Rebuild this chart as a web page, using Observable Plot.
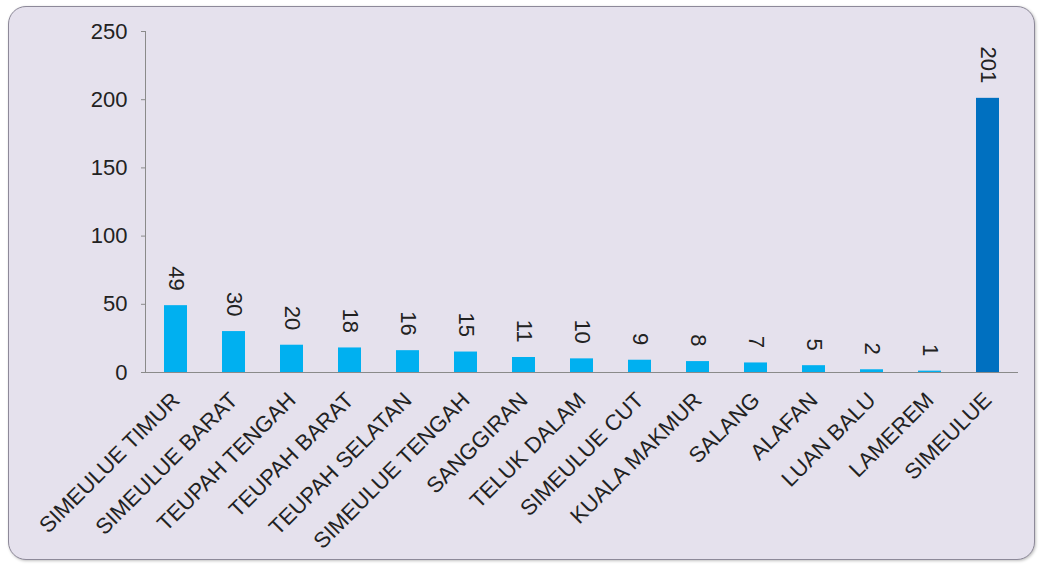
<!DOCTYPE html>
<html>
<head>
<meta charset="utf-8">
<script src="https://cdn.jsdelivr.net/npm/d3@7"></script>
<script src="https://cdn.jsdelivr.net/npm/@observablehq/plot@0.6"></script>
<style>
  html, body { margin: 0; padding: 0; background: #ffffff; }
  body { width: 1040px; height: 565px; position: relative; overflow: hidden; }
  #panel {
    position: absolute; left: 8px; top: 6px; width: 1025px; height: 552px;
    background: #e5e1ed; border: 1.5px solid #8d8999; border-radius: 18px;
    box-shadow: 1px 1px 3px rgba(0,0,0,0.25);
    overflow: hidden;
  }
  #panel svg { position: absolute; left: 0; top: 0; }
</style>
</head>
<body>
<div id="panel"></div>
<script>
const categories = ["SIMEULUE TIMUR","SIMEULUE BARAT","TEUPAH TENGAH","TEUPAH BARAT","TEUPAH SELATAN","SIMEULUE TENGAH","SANGGIRAN","TELUK DALAM","SIMEULUE CUT","KUALA MAKMUR","SALANG","ALAFAN","LUAN BALU","LAMEREM","SIMEULUE"];
const values = [49,30,20,18,16,15,11,10,9,8,7,5,2,1,201];
const yTicks = [0,50,100,150,200,250];
const highlight = "SIMEULUE";
const lightBlue = "#00b0f0";
const darkBlue = "#0070c0";

const data = categories.map((name, i) => ({name, value: values[i]}));
const font = "'Liberation Sans', Arial, sans-serif";

const chart = Plot.plot({
  width: 1025,
  height: 552,
  marginLeft: 136,
  marginRight: 16,
  marginTop: 24,
  marginBottom: 187,
  style: {background: "transparent", fontFamily: font, fontSize: "22px", color: "#222"},
  x: {domain: categories, paddingInner: 0.6, paddingOuter: 0.3, label: null},
  y: {domain: [0, 250], ticks: yTicks, label: null},
  marks: [
    Plot.barY(data, {x: "name", y: "value", fill: d => d.name === highlight ? darkBlue : lightBlue}),
    Plot.frame({anchor: "left", stroke: "#8a8a8a", strokeWidth: 1}),
    Plot.ruleY([0], {stroke: "#8a8a8a", strokeWidth: 1}),
    Plot.axisY({ticks: yTicks, tickSize: 4, tickPadding: 14, stroke: "#8a8a8a", fontSize: 22, fill: "#222"}),
    Plot.axisX({tickSize: 0, tickPadding: 24, tickRotate: -45, fontSize: 22, fill: "#222"}),
    Plot.text(data, {x: "name", y: "value", text: d => String(d.value), rotate: 90, textAnchor: "end", dy: -15, fontSize: 22, fill: "#222"})
  ]
});
document.getElementById("panel").appendChild(chart);
</script>
</body>
</html>
